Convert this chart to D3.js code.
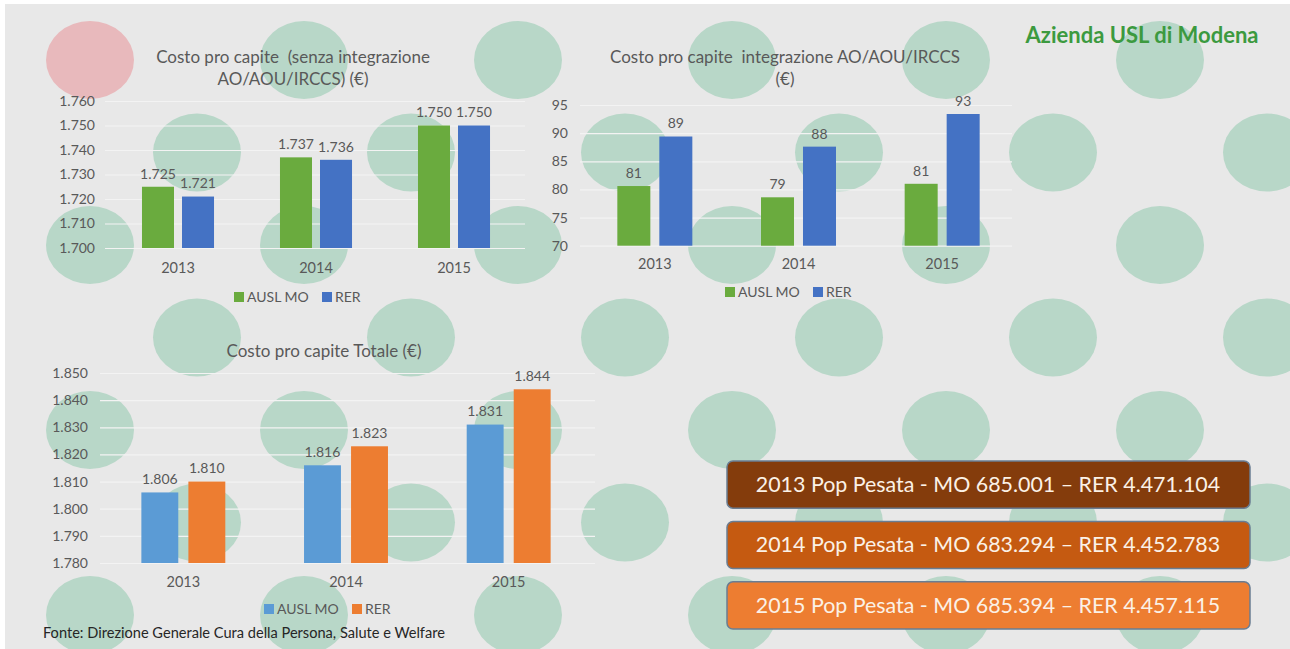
<!DOCTYPE html>
<html>
<head>
<meta charset="utf-8">
<script src="https://cdnjs.cloudflare.com/ajax/libs/d3/7.8.5/d3.min.js"></script>
<style>
  body { margin: 0; background: #fff; }
  svg { display: block; font-family: Lato, "Open Sans", sans-serif; }
  svg text { white-space: pre; }
</style>
</head>
<body>
<div id="vis"></div>
<script>
// dati
var years = ["2013", "2014", "2015"];
var series = ["AUSL MO", "RER"];

var senzaAusl = [1725, 1737, 1750];
var senzaRer = [1721, 1736, 1750];
var senzaTicks = [1700, 1710, 1720, 1730, 1740, 1750, 1760];

var integAusl = [80.6, 78.6, 81.0];
var integRer = [89.4, 87.6, 93.4];
var integTicks = [70, 75, 80, 85, 90, 95];

var totAusl = [1806, 1816, 1831];
var totRer = [1810, 1823, 1844];
var totTicks = [1780, 1790, 1800, 1810, 1820, 1830, 1840, 1850];

var popYears = ["2013", "2014", "2015"];
var popMO = [685001, 683294, 685394];
var popRER = [4471104, 4452783, 4457115];

var width = 1290, height = 649;
var it = d3.formatLocale({decimal: ",", thousands: ".", grouping: [3], currency: ["", "€"]});
var fmtK = it.format(",d");
var fmtInt = it.format(".0f");

var svg = d3.select("#vis").append("svg")
    .attr("width", width)
    .attr("height", height);

svg.append("rect").attr("width", width).attr("height", height).attr("fill", "#fff");
svg.append("rect").attr("x", 5).attr("y", 4).attr("width", width - 5).attr("height", height - 4).attr("fill", "#e8e8e8");

// sfondo a pallini
var dots = [];
for (var r = 0; r < 7; r++) {
    for (var c = 0; c < 6; c++) {
        var cx = (r % 2 === 0 ? 90 : 197) + c * 214;
        dots.push({x: cx, y: 60 + r * 92.5, pink: (r === 0 && c === 0)});
    }
}
svg.append("g").selectAll("ellipse")
    .data(dots)
    .enter().append("ellipse")
    .attr("cx", function (d) { return d.x; })
    .attr("cy", function (d) { return d.y; })
    .attr("rx", 44)
    .attr("ry", 39)
    .attr("fill", function (d) { return d.pink ? "#e8b9bc" : "#b8d7c8"; });

function drawChart(o) {
    var g = svg.append("g");
    var data = years.map(function (y, i) { return {year: y, vals: [o.a[i], o.b[i]]}; });

    var x = d3.scaleBand().domain(years).range(o.xr).paddingInner(o.p).paddingOuter(o.p / 2);
    var xs = d3.scaleBand().domain(series).range([0, x.bandwidth()]).paddingInner(o.q);
    var y = d3.scaleLinear().domain(o.dom).range(o.yr);

    // griglia
    g.append("g").selectAll("line")
        .data(o.ticks)
        .enter().append("line")
        .attr("x1", o.grid[0]).attr("x2", o.grid[1])
        .attr("y1", function (d) { return y(d) + 0.5; })
        .attr("y2", function (d) { return y(d) + 0.5; })
        .attr("stroke", "#f3f3f3")
        .attr("stroke-width", 1.2);

    // etichette asse y
    var ya = g.append("g")
        .attr("transform", "translate(" + o.labX + ",0)")
        .call(d3.axisLeft(y).tickValues(o.ticks).tickSize(0).tickPadding(0).tickFormat(o.tickFmt));
    ya.select(".domain").remove();
    ya.selectAll("text").attr("fill", "#595959").attr("font-size", 14).attr("font-family", "Lato, sans-serif");

    // etichette anni
    var xa = g.append("g")
        .attr("transform", "translate(0," + o.catY + ")")
        .call(d3.axisBottom(x).tickSize(0).tickPadding(0));
    xa.select(".domain").remove();
    xa.selectAll("text").attr("fill", "#595959").attr("font-size", 14.5).attr("dy", "0.35em").attr("font-family", "Lato, sans-serif");

    var grp = g.append("g").selectAll("g")
        .data(data)
        .enter().append("g")
        .attr("transform", function (d) { return "translate(" + x(d.year) + ",0)"; });

    grp.selectAll("rect")
        .data(function (d) { return d.vals.map(function (v, i) { return {k: series[i], v: v}; }); })
        .enter().append("rect")
        .attr("x", function (d) { return xs(d.k); })
        .attr("y", function (d) { return y(d.v); })
        .attr("width", xs.bandwidth())
        .attr("height", function (d) { return y(o.dom[0]) - y(d.v); })
        .attr("fill", function (d, i) { return o.colors[i]; });

    grp.selectAll("text")
        .data(function (d) { return d.vals.map(function (v, i) { return {k: series[i], v: v}; }); })
        .enter().append("text")
        .attr("x", function (d) { return xs(d.k) + xs.bandwidth() / 2; })
        .attr("y", function (d) { return y(d.v) - 13; })
        .attr("dy", "0.35em")
        .attr("text-anchor", "middle")
        .attr("fill", "#595959")
        .attr("font-size", 14)
        .text(function (d) { return o.valFmt(d.v); });

    // titolo
    g.append("g").selectAll("text")
        .data(o.title)
        .enter().append("text")
        .attr("x", o.titleX)
        .attr("y", function (d, i) { return o.titleY + i * 22; })
        .attr("dy", "0.35em")
        .attr("text-anchor", "middle")
        .attr("fill", "#595959")
        .attr("font-size", 17)
        .text(function (d) { return d; });

    // legenda
    var lg = g.append("g").attr("transform", "translate(" + o.legX + "," + o.legY + ")");
    var offs = [0, 88];
    series.forEach(function (s, i) {
        lg.append("rect").attr("x", offs[i]).attr("y", -5).attr("width", 10).attr("height", 10).attr("fill", o.colors[i]);
        lg.append("text").attr("x", offs[i] + 13).attr("y", 0).attr("dy", "0.35em")
            .attr("fill", "#595959").attr("font-size", 14).text(s);
    });
}

drawChart({
    a: senzaAusl, b: senzaRer, dom: [1700, 1760], ticks: senzaTicks,
    xr: [109, 523], yr: [248, 101], p: 0.478, q: 0.2,
    grid: [105, 525], labX: 95, catY: 268,
    colors: ["#6aab3e", "#4472c4"], tickFmt: fmtK, valFmt: fmtK,
    title: ["Costo pro capite  (senza integrazione", "AO/AOU/IRCCS) (€)"], titleX: 293, titleY: 57,
    legX: 234, legY: 297
});

drawChart({
    a: integAusl, b: integRer, dom: [70, 95], ticks: integTicks,
    xr: [583, 1014], yr: [245.7, 105], p: 0.478, q: 0.214,
    grid: [580, 1012], labX: 568, catY: 264,
    colors: ["#6aab3e", "#4472c4"], tickFmt: fmtInt, valFmt: fmtInt,
    title: ["Costo pro capite  integrazione AO/AOU/IRCCS", "(€)"], titleX: 785, titleY: 57,
    legX: 725, legY: 292
});

drawChart({
    a: totAusl, b: totRer, dom: [1780, 1850], ticks: totTicks,
    xr: [102, 590], yr: [563, 373], p: 0.484, q: 0.215,
    grid: [100, 595], labX: 88, catY: 582,
    colors: ["#5b9bd5", "#ed7d31"], tickFmt: fmtK, valFmt: fmtK,
    title: ["Costo pro capite Totale (€)"], titleX: 324, titleY: 351,
    legX: 264, legY: 609
});

// titolo azienda
svg.append("text")
    .attr("x", 1142).attr("y", 35).attr("dy", "0.35em")
    .attr("text-anchor", "middle")
    .attr("font-size", 22).attr("font-weight", "bold")
    .attr("fill", "#3c9a3f")
    .text("Azienda USL di Modena");

// fonte
svg.append("text")
    .attr("x", 43).attr("y", 633).attr("dy", "0.35em")
    .attr("font-size", 14.6).attr("fill", "#262626")
    .text("Fonte: Direzione Generale Cura della Persona, Salute e Welfare");

// riquadri popolazione pesata
var boxColors = ["#843c0c", "#c55a11", "#ed7d31"];
var boxY = d3.scaleBand().domain(popYears).range([461, 629]).paddingInner(0.22);
var box = svg.append("g").selectAll("g")
    .data(popYears)
    .enter().append("g")
    .attr("transform", function (d) { return "translate(727," + boxY(d) + ")"; });
box.append("rect")
    .attr("width", 523)
    .attr("height", boxY.bandwidth())
    .attr("rx", 6)
    .attr("fill", function (d, i) { return boxColors[i]; })
    .attr("stroke", "#6a7d92")
    .attr("stroke-width", 1.5);
box.append("text")
    .attr("x", 261)
    .attr("y", boxY.bandwidth() / 2)
    .attr("dy", "0.35em")
    .attr("text-anchor", "middle")
    .attr("font-size", 21.4)
    .attr("fill", "#fbf1e6")
    .text(function (d, i) { return d + " Pop Pesata - MO " + fmtK(popMO[i]) + " \u2013 RER " + fmtK(popRER[i]); });
</script>
</body>
</html>
